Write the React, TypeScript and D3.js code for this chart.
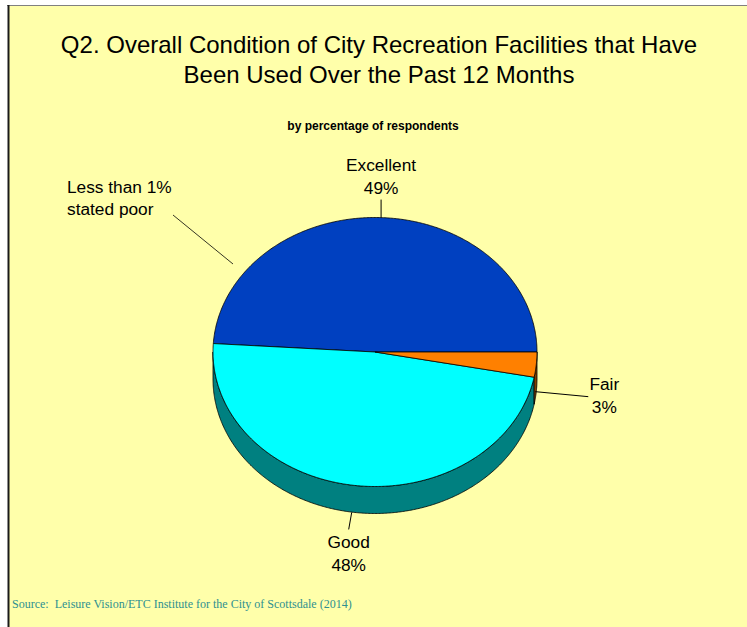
import React from "react";
import * as d3 from "d3";

// ---- data ----
const categories = ["Excellent", "Good", "Fair", "Poor"];
const values = [49, 48, 3, 0];
const valueLabels = ["49%", "48%", "3%", "<1%"];
const topColors = ["#0040C0", "#00FFFF", "#FF8000", "#800080"];
const sideColors = ["#002070", "#008080", "#804000", "#400040"];

const titleLines = [
  "Q2. Overall Condition of City Recreation Facilities that Have",
  "Been Used Over the Past 12 Months",
];
const subtitle = "by percentage of respondents";
const sourceText = "Source:  Leisure Vision/ETC Institute for the City of Scottsdale (2014)";
const poorNote = ["Less than 1%", "stated poor"];

// ---- layout ----
const W = 747;
const H = 627;
const cx = 375;
const cy = 352;
const rx = 162;
const ry = 134.5;
const depth = 27;
const BG = "#FFFFAA";
const FONT = "'Liberation Sans', Arial, Helvetica, sans-serif";

function pt(a: number, dy = 0): [number, number] {
  return [cx + rx * Math.cos(a), cy - ry * Math.sin(a) + dy];
}
function arcPts(a0: number, a1: number, dy = 0): [number, number][] {
  const n = Math.max(2, Math.ceil(Math.abs(a1 - a0) / (Math.PI / 360)) + 1);
  return d3.range(n).map((i) => pt(a0 + ((a1 - a0) * i) / (n - 1), dy));
}

const line = d3.line<[number, number]>();

export default function App() {
  const arcs = d3
    .pie<number>()
    .sort(null)
    .value((d) => d)(values);

  const sides: React.ReactNode[] = [];
  const tops: React.ReactNode[] = [];
  const labels: React.ReactNode[] = [];

  arcs.forEach((a, i) => {
    const a0 = a.startAngle;
    const a1 = a.endAngle;
    if (a1 - a0 <= 0) return;
    // visible side (front half)
    const s = Math.max(a0, Math.PI);
    const e = Math.min(a1, 2 * Math.PI);
    if (e > s) {
      const pts = [...arcPts(s, e), ...arcPts(e, s, depth)];
      sides.push(
        <path
          key={"s" + i}
          d={line(pts) + "Z"}
          fill={sideColors[i]}
          stroke="#000"
          strokeWidth={0.8}
          strokeLinejoin="round"
        />
      );
    }
    const topPts: [number, number][] = [[cx, cy], ...arcPts(a0, a1)];
    tops.push(
      <path
        key={"t" + i}
        d={line(topPts) + "Z"}
        fill={topColors[i]}
        stroke="#000"
        strokeWidth={0.8}
        strokeLinejoin="round"
      />
    );

    const mid = (a0 + a1) / 2;
    const front = Math.sin(mid) < 0;
    const [px, py] = pt(mid, front ? depth : 0);
    let lead: [number, number][];
    let tx: number;
    let ty: number;
    if (categories[i] === "Excellent") {
      lead = [[px + 1, py], [px + 1, py - 18]];
      tx = px + 1;
      ty = py - 47;
    } else if (categories[i] === "Good") {
      lead = [[px - 3, py], [px - 6, py + 17]];
      tx = px - 6;
      ty = py + 36;
    } else {
      lead = [[px - 1, py], [px + 52, py + 5]];
      tx = px + 68;
      ty = py - 2;
    }
    labels.push(
      <g key={"l" + i}>
        <path d={line(lead) || ""} stroke="#000" strokeWidth={1} fill="none" />
        <text x={tx} y={ty} textAnchor="middle" fontSize={17.3} fontFamily={FONT} fill="#000">
          <tspan x={tx}>{categories[i]}</tspan>
          <tspan x={tx} dy={23}>{valueLabels[i]}</tspan>
        </text>
      </g>
    );
  });

  return (
    <svg
      width={W}
      height={H}
      viewBox={`0 0 ${W} ${H}`}
      style={{ position: "absolute", left: 0, top: 0, display: "block" }}
    >
      <rect x={0} y={0} width={W} height={H} fill="#fff" />
      <rect x={9} y={6} width={W - 9} height={H - 6} fill={BG} />
      <line x1={7} y1={5.5} x2={W} y2={5.5} stroke="#808080" strokeWidth={1} />
      <line x1={8.5} y1={5} x2={8.5} y2={H} stroke="#1a1a1a" strokeWidth={2} />

      {titleLines.map((t, i) => (
        <text
          key={i}
          x={379}
          y={53 + i * 30}
          textAnchor="middle"
          fontSize={24}
          fontFamily={FONT}
          fill="#000"
        >
          {t}
        </text>
      ))}
      <text x={373} y={130} textAnchor="middle" fontSize={12} fontWeight="bold" fontFamily={FONT} fill="#000">
        {subtitle}
      </text>

      {sides}
      {tops}
      {labels}

      <text x={67} y={193} fontSize={17.3} fontFamily={FONT} fill="#000">
        <tspan x={67}>{poorNote[0]}</tspan>
        <tspan x={67} dy={22}>{poorNote[1]}</tspan>
      </text>
      <line x1={173} y1={215} x2={233} y2={264} stroke="#000" strokeWidth={0.8} />

      <text
        x={12}
        y={608}
        fontSize={12}
        fontFamily="'Liberation Serif', 'Times New Roman', serif"
        fill="#2E9090"
        style={{ whiteSpace: "pre" }}
      >
        {sourceText}
      </text>
    </svg>
  );
}
